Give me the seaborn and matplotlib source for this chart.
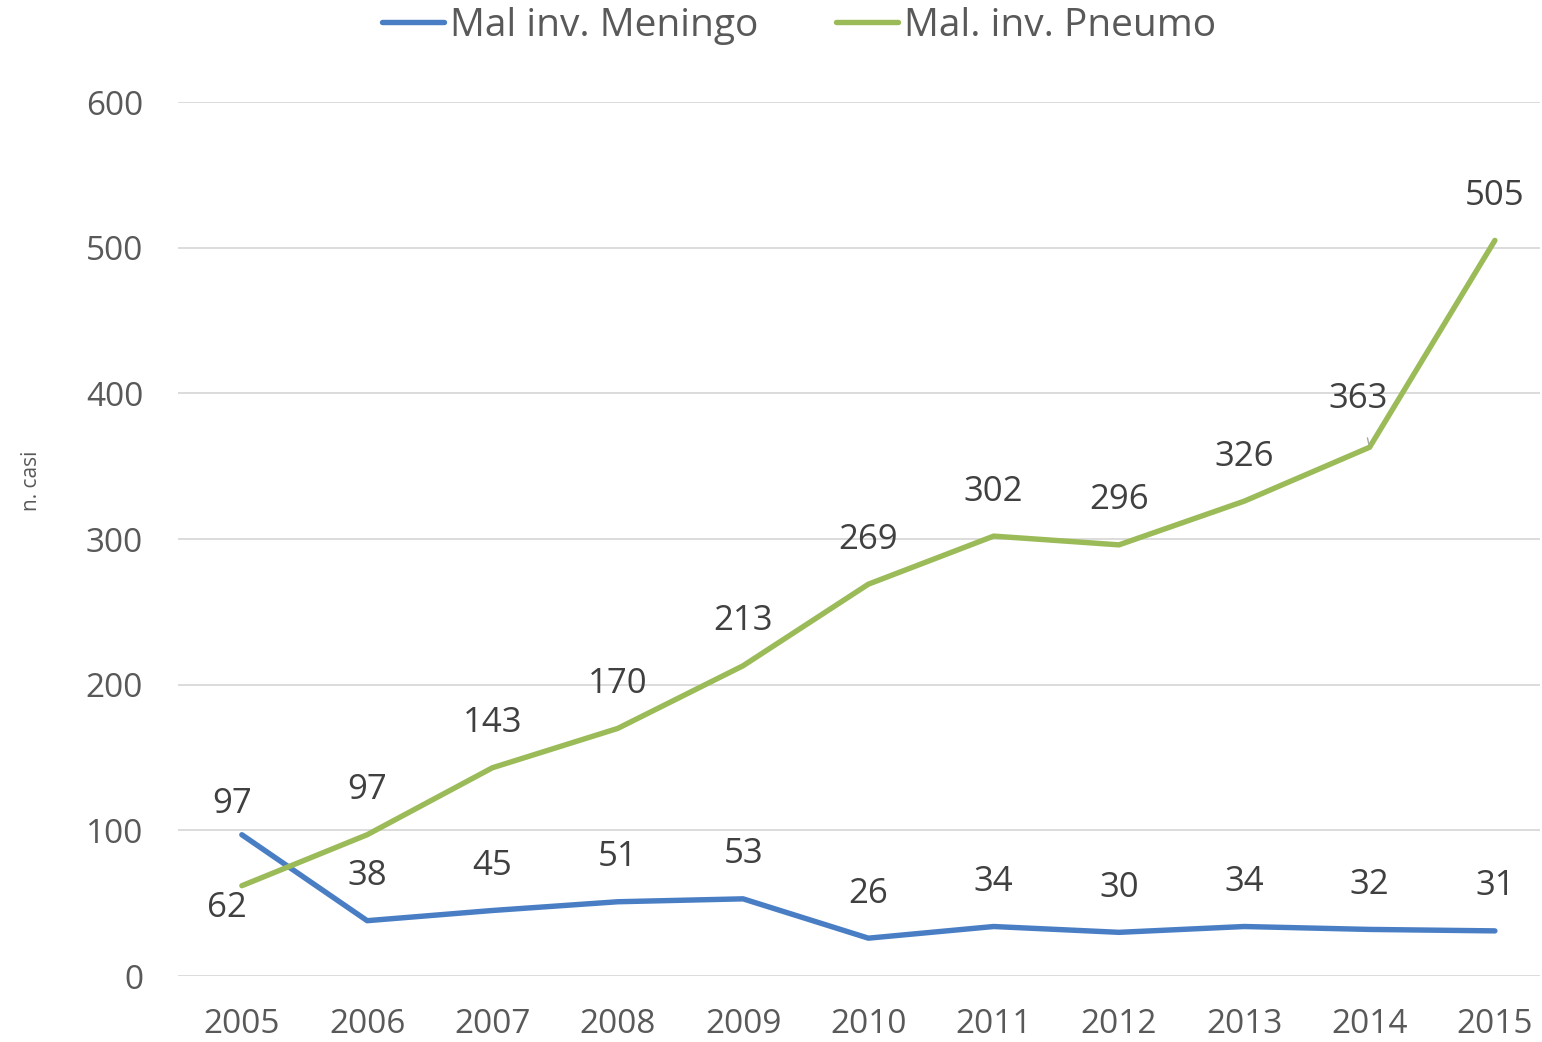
import pandas as pd
import matplotlib
matplotlib.use('Agg')
import matplotlib.pyplot as plt
import seaborn as sns

anni = [2005, 2006, 2007, 2008, 2009, 2010, 2011, 2012, 2013, 2014, 2015]
meningo = [97, 38, 45, 51, 53, 26, 34, 30, 34, 32, 31]
pneumo = [62, 97, 143, 170, 213, 269, 302, 296, 326, 363, 505]
serie = ['Mal inv. Meningo', 'Mal. inv. Pneumo']
colori = ['#4A7EC4', '#9BBB59']

df = pd.DataFrame({
    'pos': list(range(len(anni))) * 2,
    'casi': meningo + pneumo,
    'serie': [serie[0]] * len(anni) + [serie[1]] * len(anni),
})

sns.set_style('white')
plt.rcParams['font.family'] = ['Open Sans', 'DejaVu Sans']

fig = plt.figure(figsize=(15.42, 10.42), dpi=100)
ax = fig.add_axes([0.1154, 0.0633, 0.8833, 0.8388])

sns.lineplot(data=df, x='pos', y='casi', hue='serie', palette=colori,
             linewidth=3.9, ax=ax, legend=False)

ax.set_xlim(-0.51, 10.36)
ax.set_ylim(0, 600)
ax.set_yticks(range(0, 601, 100))
ax.set_xticks(range(len(anni)))
ax.set_xticklabels(anni)
ax.yaxis.grid(True, color='#D9D9D9', linewidth=1.3)
ax.xaxis.grid(False)
for s in ax.spines.values():
    s.set_visible(False)
ax.tick_params(axis='both', length=0, labelsize=24, colors='#595959')
ax.tick_params(axis='x', pad=23)
ax.tick_params(axis='y', pad=25)
ax.set_xlabel('')
ax.set_ylabel('n. casi', fontsize=15, color='#595959', labelpad=0)
ax.yaxis.set_label_coords(-0.1, 0.567)

lab = dict(fontsize=25, color='#404040', ha='center', va='center',
           textcoords='offset points')
for i, v in enumerate(meningo):
    if i == 0:
        ax.annotate(str(v), (i, v), xytext=(-7, 22), **lab)
    else:
        ax.annotate(str(v), (i, v), xytext=(0, 32), **lab)
for i, v in enumerate(pneumo):
    if i == 0:
        ax.annotate(str(v), (i, v), xytext=(-11, -16), **lab)
    elif i == 9:
        ax.annotate(str(v), (i, v), xytext=(-8, 35),
                    arrowprops=dict(arrowstyle='-', color='#A6A6A6', lw=1,
                                    shrinkA=14, shrinkB=2), **lab)
    else:
        ax.annotate(str(v), (i, v), xytext=(0, 32), **lab)

handles = [plt.Line2D([], [], color=c, linewidth=3.9) for c in colori]
fig.legend(handles, serie, loc='upper center', bbox_to_anchor=(0.518, 1.027),
           ncol=2, frameon=False, fontsize=28, handlelength=1.6,
           handletextpad=0.15, columnspacing=2.0, labelcolor='#595959')

fig.savefig('out.png', dpi=100)
